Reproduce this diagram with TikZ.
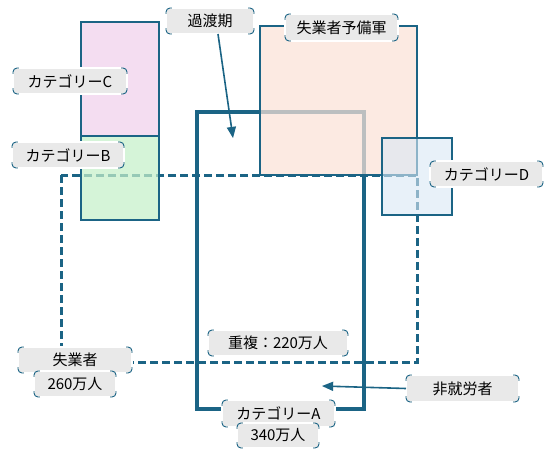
\documentclass[tikz,border=0pt]{standalone}
\usepackage{fontspec}
\setmainfont{Noto Sans CJK JP}
\usetikzlibrary{arrows}
\definecolor{edgeblue}{HTML}{1B6485}
\definecolor{pinkfill}{RGB}{241,208,236}
\definecolor{greenfill}{RGB}{198,241,202}
\definecolor{peachfill}{RGB}{251,227,215}
\definecolor{icefill}{RGB}{217,232,245}
\definecolor{tagfill}{HTML}{E9E9E9}
\tikzset{
	tag/.style={fill=tagfill, draw=edgeblue, line width=0.9pt, rounded corners=4pt,
		inner sep=0pt, outer sep=0pt, minimum height=26pt, minimum width=#1,
		font=\fontsize{15}{17}\selectfont},
	tag/.default=113pt,
	catbox/.style={draw=edgeblue, line width=2.5pt, fill opacity=0.72},
	groupline/.style={draw=edgeblue, line width=3pt, dash pattern=on 8pt off 4pt},
	pointer/.style={->, draw=edgeblue, line width=1.6pt}
}
% white over the straight parts, so only the corners stay blue
\newcommand\tagedges[1]{%
	\draw[white, line width=1.3pt] ([xshift=6pt]#1.north west) -- ([xshift=-6pt]#1.north east)
		([xshift=6pt]#1.south west) -- ([xshift=-6pt]#1.south east)
		([yshift=-6pt]#1.north west) -- ([yshift=6pt]#1.south west)
		([yshift=-6pt]#1.north east) -- ([yshift=6pt]#1.south east);}
\begin{document}
\begin{tikzpicture}[line cap=butt,line join=miter,>=triangle 45,x=1pt,y=-1pt]
		\useasboundingbox (0,0) rectangle (556,457);
		\fill[white] (0,0) rectangle (556,457);
		% groups
		\draw[groupline] (61,175) rectangle (417.5,362);
		\draw[draw=edgeblue, line width=4.5pt] (197,112) rectangle (364,409);
		% categories
		\draw[catbox, fill=pinkfill] (81,22) rectangle (159,136);
		\draw[catbox, fill=greenfill] (81,136) rectangle (159,220);
		\draw[catbox, fill=peachfill] (260,26) rectangle (417,175);
		\draw[catbox, fill=icefill, fill opacity=0.6] (382,138) rectangle (452,215);
		% labels
		\node[tag=88pt] (kado) at (210,21) {過渡期};
		\tagedges{kado}
		\node[tag, minimum height=27pt] (yobi) at (341.5,27.5) {失業者予備軍};
		\tagedges{yobi}
		\node[tag=114pt] (catC) at (70,81) {カテゴリーC};
		\tagedges{catC}
		\node[tag=112pt] (catB) at (68,155) {カテゴリーB};
		\tagedges{catB}
		\node[tag] (catD) at (486.5,174) {カテゴリーD};
		\tagedges{catD}
		\node[tag=140pt] (juufuku) at (278,343) {重複：220万人};
		\tagedges{juufuku}
		\node[tag=114pt] (shitsu) at (75,360) {失業者};
		\tagedges{shitsu}
		\node[tag=82pt] (shitsuN) at (75,384) {260万人};
		\tagedges{shitsuN}
		\node[tag, minimum height=27pt] (hishu) at (462.5,388.5) {非就労者};
		\tagedges{hishu}
		\node[tag, minimum height=27pt] (catA) at (278.5,413.5) {カテゴリーA};
		\tagedges{catA}
		\node[tag=82pt, minimum height=25pt] (catAN) at (278,435.5) {340万人};
		\tagedges{catAN}
		% pointers
		\coordinate (kadotip) at (233,138);
		\coordinate (hishutip) at (322,386);
		\draw[pointer] ([xshift=8pt]kado.south) -- (kadotip);
		\draw[pointer] (hishu.west) -- (hishutip);
	\end{tikzpicture}
\end{document}
